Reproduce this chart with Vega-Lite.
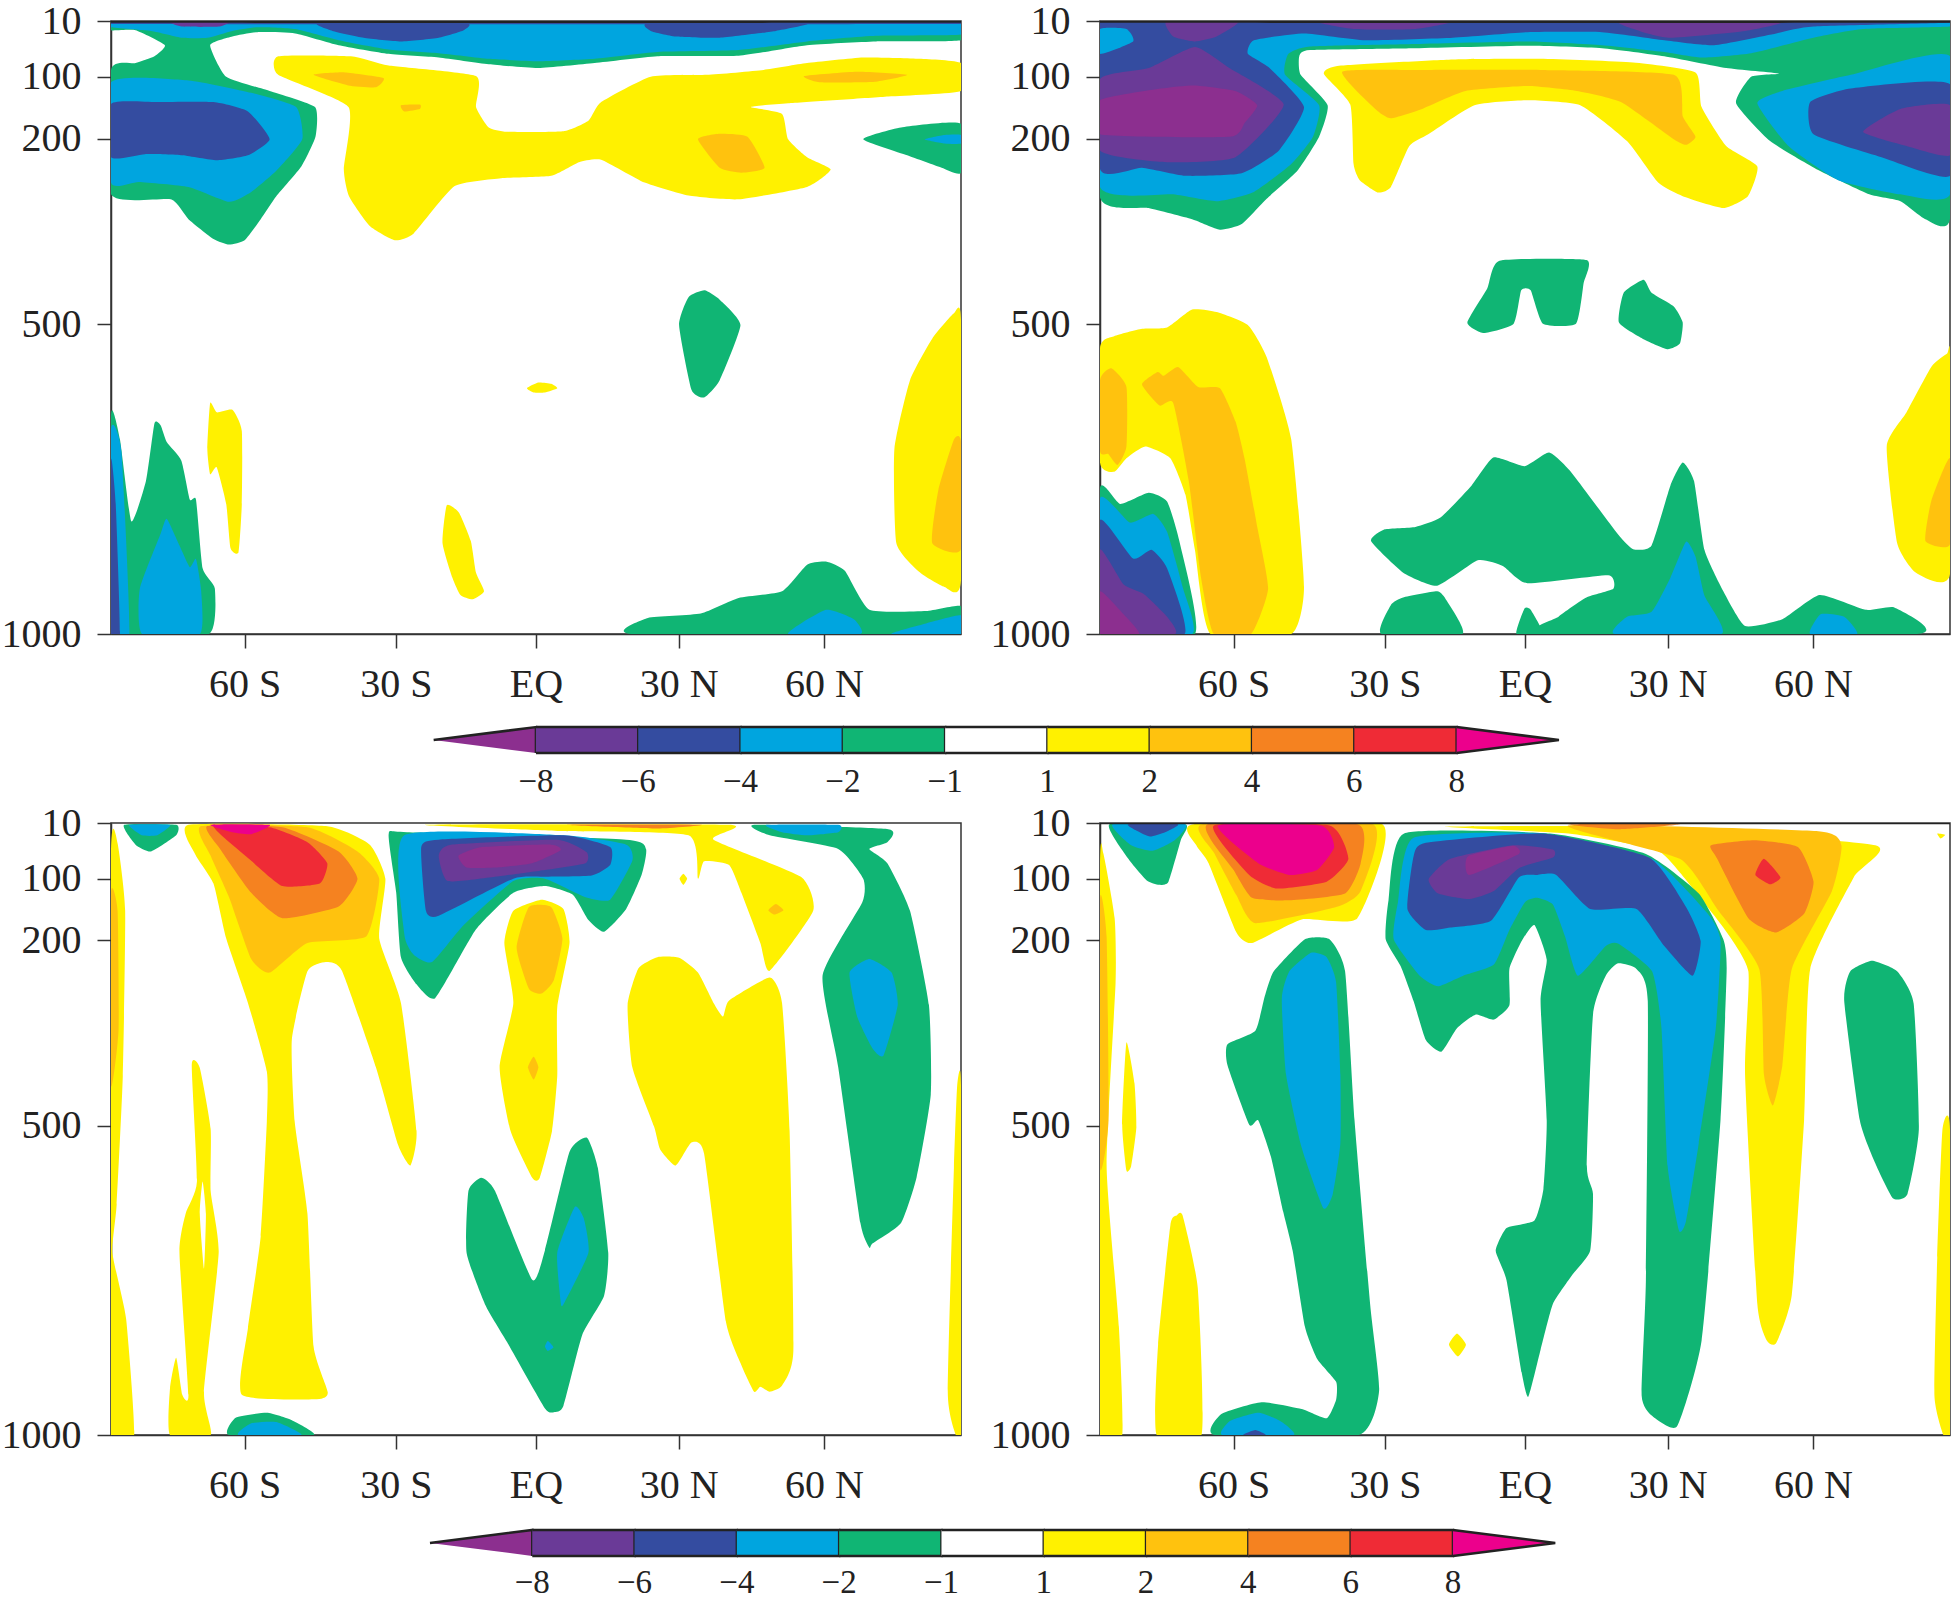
{"$schema":"https://vega.github.io/schema/vega-lite/v6.json","background":"white","padding":{"left":0,"top":0,"right":0,"bottom":0},"bounds":"flush","columns":2,"spacing":{"row":0,"column":139},
"config":{"axis":{"labelFont":"Liberation Serif","labelFontSize":40,"labelColor":"#222","tickColor":"#333","domainColor":"#333","tickSize":14,"tickWidth":1.5,"domainWidth":1.5,"grid":false,"title":null},"view":{"stroke":"#333","strokeWidth":1.5}},
"datasets":{"contours":[
{"panel":"A","id":"a1","band":"-2","lat":[-90,90,90,72,57.4,42.9,25.7,12.4,0.5,-10,-20.6,-31.2,-41.8,-51,-59,-64.3,-69,-65.6,-56.4,-46.8,-46.7,-49.7,-55,-58.3,-61.7,-65,-68.3,-73.6,-77.3,-90,-90,-84.8,-80.8,-78.6,-84.8,-90],"p":[10,10,41,43,49,66,67,78,86,80,69,63,49,30,28,35,49,100,123,149,197,245,293,330,364,371,362,330,298,290,89,78,67,49,25,25]},
{"panel":"A","id":"a2","band":"-4","lat":[-90,90,90,72,57.4,42.9,25.7,12.4,0.5,-10,-20.6,-31.2,-41.8,-51,-59,-64.3,-69.6,-74.9,-81.5,-90],"p":[10,10,32,34,43,57,60,71,75,71,62,56,41,23,20,26,37,37,26,20]},
{"panel":"A","id":"a3","band":"-4","lat":[-90,-73.6,-60.3,-50.8,-49.5,-55,-60.3,-65,-73.6,-84.1,-90],"p":[109,106,126,149,201,252,286,302,278,270,271]},
{"panel":"A","id":"a4","band":"-6","lat":[-90,-80.2,-68.3,-61,-56.4,-61,-67.6,-74.9,-82.8,-90],"p":[144,141,141,156,201,227,235,227,225,230]},
{"panel":"A","id":"a5","band":"-6","lat":[-45.8,-15.3,-15.3,-20.6,-28.6,-36.5,-43.1],"p":[13,13,25,37,43,37,26]},
{"panel":"A","id":"a6","band":"-6","lat":[24.3,57.4,50.8,38.9,29.6,24.3],"p":[13,13,26,37,35,26]},
{"panel":"A","id":"a7","band":"-6","lat":[-90,90,90,-90],"p":[10,10,15,15]},
{"panel":"A","id":"a7b","band":"-8","lat":[-77.5,-65,-67,-75],"p":[10,10,19,19]},
{"panel":"A","id":"a7c","band":"frame","lat":[-90,90,90,-90],"p":[10,10,13,13]},
{"panel":"A","id":"a8","band":"-2","lat":[69.3,77.3,90,90,85.9,78.6],"p":[201,182,176,255,247,227]},
{"panel":"A","id":"a9","band":"-4","lat":[82.3,86.5,90,90,86.5],"p":[201,194,194,208,208]},
{"panel":"A","id":"a10","band":"-2","lat":[-90,-88.1,-85.7,-82.6,-80.8,-79.5,-78.2,-75.1,-73.3,-72,-70.6,-68,-69.3,-90],"p":[646,686,818,753,660,663,690,720,783,783,894,927,1000,1000]},
{"panel":"A","id":"a11","band":"-4","lat":[-90,-87.8,-86.1,-90],"p":[671,705,1000,1000]},
{"panel":"A","id":"a12","band":"-6","lat":[-90,-89,-88.1,-90],"p":[720,790,1000,1000]},
{"panel":"A","id":"a13","band":"-4","lat":[-83.9,-79.5,-78.2,-75.5,-73.3,-72,-70.9,-71.2,-83.4],"p":[927,838,814,857,892,879,931,1000,1000]},
{"panel":"A","id":"a14","band":"1","lat":[-69,-67.6,-64.3,-62.3,-62.3,-63,-64.7,-65.6,-67.6,-69,-69.6],"p":[627,642,638,672,790,868,861,790,731,742,701]},
{"panel":"A","id":"a15","band":"1","lat":[-18.9,-16.3,-13.8,-12.7,-11,-13.4,-16,-17.7,-19.8],"p":[792,804,850,901,931,944,937,909,853]},
{"panel":"A","id":"a16","band":"1","lat":[-1.9,0.5,3.2,4.5,1.9,-0.5],"p":[603,594,596,603,610,610]},
{"panel":"A","id":"a17","band":"-2","lat":[35.7,38.9,43.3,38.9,35.6,32.9,30.3,32.3],"p":[445,460,501,590,618,605,501,456]},
{"panel":"A","id":"a18","band":"1","lat":[88.5,90,90,86.5,81.2,76.3,75.9,79.2,83.9],"p":[482,493,913,924,900,853,701,590,523]},
{"panel":"A","id":"a19","band":"2","lat":[88.5,90,90,83.9,85.2],"p":[686,690,863,853,768]},
{"panel":"A","id":"a20","band":"-2","lat":[20.6,23.7,34.9,42.9,52.1,57.4,61.4,65.4,70.6,82.6,90,90],"p":[1000,974,967,942,931,888,883,898,961,963,955,1000]},
{"panel":"A","id":"a21","band":"-4","lat":[53.4,61.4,67.3,68.7],"p":[1000,961,976,1000]},
{"panel":"A","id":"a22","band":"-4","lat":[75.3,82.6,90,90],"p":[1000,983,970,1000]},
{"panel":"A","id":"a23","band":"1","lat":[-54.6,-39.2,-31.2,-12.7,-12.7,-10,-6.1,5.8,11.1,13.8,24.3,36.2,48.2,57.4,69.3,81.2,90,90,74.6,53.4,45.5,52.1,53.4,57.4,62.4,57.4,42.9,32.3,23,13.8,9.1,3.2,-7.4,-17.3,-25.9,-29.9,-35.2,-39.6,-40.7,-39.7,-54.6],"p":[67,67,82,99,149,182,189,188,171,141,100,97,89,78,69,71,78,123,132,143,149,160,201,230,250,278,298,292,271,234,238,260,264,277,353,364,341,293,249,149,97]},
{"panel":"A","id":"a24","band":"2","lat":[-47.1,-40.5,-32.3,-33.9,-39.8],"p":[97,93,102,117,114]},
{"panel":"A","id":"a25","band":"2","lat":[-28.6,-24.6,-24.6,-27.9],"p":[146,145,152,156]},
{"panel":"A","id":"a26","band":"2","lat":[34.3,38.9,44.8,48.4,43.5,38.9],"p":[201,192,197,247,255,247]},
{"panel":"A","id":"a27","band":"2","lat":[56.8,68,78.6,72,60],"p":[99,92,97,108,109]},

{"panel":"B","id":"b1","band":"-2","lat":[-90,-79.7,-70.5,-64.6,-60,-54.7,-48.2,-43.6,-41.8,-47.5,-47.8,-45.5,-23.2,0.5,16.3,29.5,42.6,53.8,47.9,44.7,51.9,62.4,72.9,79.5,84.8,90,90,-90],"p":[295,312,330,347,338,297,252,197,146,97,67,57,54,50,54,67,86,95,100,143,204,252,290,301,330,329,10,10]},
{"panel":"B","id":"b2","band":"-4","lat":[-90,90,90,71.6,61.1,47.9,37.4,29.5,16.3,0.5,-23.2,-45.5,-50.1,-50.8,-43.6,-44.9,-49.5,-57.4,-65.3,-74.5,-90],"p":[10,10,19,23,37,62,69,60,49,43,47,51,63,97,146,197,241,286,301,290,278]},
{"panel":"B","id":"b3","band":"-4","lat":[49.2,54.5,69,90,90,79.5,66.3,55.8],"p":[143,123,97,67,290,290,267,212]},
{"panel":"B","id":"b4","band":"-6","lat":[-90,90,90,61.1,53.2,40,29.5,16.3,0.5,-15.3,-33.7,-46.8,-57.4,-58.7,-54.1,-46.8,-52.1,-60,-71.9,-81.1,-90],"p":[10,10,13,19,30,49,41,28,28,37,41,30,41,63,86,149,219,256,260,247,249]},
{"panel":"B","id":"b5","band":"-4","lat":[-90,-84.4,-83,-90],"p":[23,23,43,63]},
{"panel":"B","id":"b6","band":"-6","lat":[60.4,69,90,90,75.5,61.1],"p":[141,119,112,260,230,193]},
{"panel":"B","id":"b7","band":"-8","lat":[-90,-79.7,-69.9,-62.6,-51.1,-61.3,-75.8,-90],"p":[104,86,52,86,145,230,238,219]},
{"panel":"B","id":"b8","band":"<-8","lat":[-90,-77.1,-69.9,-61.3,-56.7,-59.4,-62.6,-90],"p":[138,119,114,123,146,175,197,193]},
{"panel":"B","id":"b9","band":"-8","lat":[-75.8,-60.7,-65.3,-69.9,-74.5],"p":[10,10,35,43,35]},
{"panel":"B","id":"b9b","band":"-8","lat":[-44.2,-15.3,-23.2,-36.3],"p":[10,10,23,23]},
{"panel":"B","id":"b9c","band":"-8","lat":[20.3,54.5,46.6,30.8,24.2],"p":[10,10,26,37,26]},
{"panel":"B","id":"b9d","band":"frame","lat":[-90,90,90,-90],"p":[10,10,13,13]},
{"panel":"B","id":"b29","band":"-8","lat":[71.6,79.5,90,90,80.8],"p":[189,152,146,227,212]},
{"panel":"B","id":"b10","band":"1","lat":[-42.6,-39,-15.3,3.2,22.9,36.1,37.4,42.6,49.2,47.2,42,33.4,28.2,21.6,11.7,0.5,-10.7,-20.5,-24.5,-28.4,-31.1,-35,-36.3,-37],"p":[95,82,72,71,77,93,149,212,245,293,312,293,271,204,146,138,146,193,212,278,287,267,241,145]},
{"panel":"B","id":"b11","band":"2","lat":[-38.7,-23.2,3.2,31.5,33.4,36.1,34.1,31.5,20.3,11,0.5,-12.6,-21.8,-28.4,-31.7],"p":[92,89,89,97,164,197,210,201,141,123,115,123,152,167,152]},
{"panel":"B","id":"b12","band":"1","lat":[-90,-87,-81.1,-75.8,-70.5,-65.3,-58.7,-54.7,-49.5,-46.8,-49.5,-66.6,-69.9,-71.9,-75.1,-80.4,-84.4,-87,-90],"p":[538,519,507,505,476,480,501,553,686,924,1000,1000,864,775,716,697,716,738,723]},
{"panel":"B","id":"b13","band":"2","lat":[-81.1,-77.8,-76.5,-73.4,-69.2,-64.6,-61.3,-59.4,-56.7,-54.4,-58,-65.9,-68.6,-71.2,-74.5,-77.4],"p":[597,577,583,569,601,603,657,716,827,927,1000,1000,909,753,627,631]},
{"panel":"B","id":"b14","band":"2","lat":[-90,-87.6,-84.4,-84.4,-86.3,-88.3,-90],"p":[590,571,601,697,727,709,705]},
{"panel":"B","id":"b15","band":"-2","lat":[-90,-85.7,-79.7,-75.8,-73.2,-69.9,-90],"p":[764,790,772,786,850,1000,1000]},
{"panel":"B","id":"b16","band":"-4","lat":[-90,-83.7,-78.7,-75.8,-72.5,-70.5,-90],"p":[781,820,806,835,924,1000,1000]},
{"panel":"B","id":"b17","band":"-6","lat":[-90,-83,-79.1,-75.8,-72.1,-90],"p":[816,878,864,894,1000,1000]},
{"panel":"B","id":"b18","band":"-8","lat":[-90,-85,-80.8,-75.8,-74.2,-90],"p":[864,920,935,972,1000,1000]},
{"panel":"B","id":"b19","band":"<-8","lat":[-90,-85,-81.7,-90],"p":[931,968,1000,1000]},
{"panel":"B","id":"b20","band":"-2","lat":[-12.2,-8,-5.4,13,12.4,10.8,3.8,1.2,-0.8,-2.4,-8.7],"p":[497,442,397,396,434,499,499,445,445,499,514]},
{"panel":"B","id":"b21","band":"-2","lat":[19.9,20.9,25.1,26.8,31.5,33.4,32.8,30.1,24.9],"p":[497,449,428,449,471,497,531,540,523]},
{"panel":"B","id":"b22","band":"-2","lat":[-32.6,-29.7,-23.2,-17.9,-11.3,-6.7,-0.1,5.1,9.7,19.6,22.9,26.8,30.8,33.4,35.8,38,42,46.6,54.5,62.4,72.2,78.2,83,3.8,7.1,13,18.7,17.6,0.5,-4.7,-10,-18.6,-25.8],"p":[850,831,827,812,760,715,729,707,738,838,863,857,760,723,753,864,931,987,976,937,961,957,1000,1000,972,941,927,905,918,890,881,922,901]},
{"panel":"B","id":"b23","band":"-2","lat":[-30.4,-28.4,-25.8,-18.6,-16.6,-13.3],"p":[1000,953,941,931,946,1000]},
{"panel":"B","id":"b24","band":"-2","lat":[-1.8,-0.1,1.2,3.8],"p":[1000,959,961,1000]},
{"panel":"B","id":"b25","band":"-4","lat":[19,21.6,26.8,30.8,34.1,36.1,38,41.6],"p":[1000,972,964,909,851,875,938,1000]},
{"panel":"B","id":"b26","band":"-4","lat":[60.4,62.6,67.6,70.3],"p":[1000,968,972,1000]},
{"panel":"B","id":"b27","band":"1","lat":[89.4,90,90,82.8,78.8,76.6,80.8,86.1],"p":[547,549,903,901,853,697,642,568]},
{"panel":"B","id":"b28","band":"2","lat":[90,90,84.8,86.1],"p":[716,855,850,783]},

{"panel":"C","id":"c1","band":"-2","lat":[-87.2,-76.2,-76.2,-81.5,-84.8],"p":[13,13,30,56,45]},
{"panel":"C","id":"c2","band":"-4","lat":[-86.1,-77.5,-80.2,-83.5],"p":[13,13,30,30]},
{"panel":"C","id":"c3","band":"1","lat":[-90,-88.6,-87,-87.5,-88.8,-89.7,-86.8,-85.1,-90],"p":[63,43,152,419,627,705,812,1000,1000]},
{"panel":"C","id":"c4","band":"2","lat":[-90,-88.6,-88.4,-90],"p":[123,152,345,434]},
{"panel":"C","id":"c5","band":"1","lat":[-73.6,-44.5,-35.2,-31.9,-33.2,-28.6,-25.3,-26.6,-29.2,-33.9,-41.1,-44.5,-48.4,-51.7,-51.1,-48.4,-47.1,-44.1,-46.4,-62.3,-61,-58.3,-57,-57,-61,-65.6,-68.3,-72.2],"p":[13,15,45,100,197,301,508,564,531,405,249,235,250,360,493,642,857,931,942,935,827,679,493,412,301,197,108,60]},
{"panel":"C","id":"c6","band":"2","lat":[-70.9,-48.4,-37.8,-33.2,-35.9,-48.4,-56.4,-60.3,-65,-68.9],"p":[15,17,56,100,193,204,252,230,130,63]},
{"panel":"C","id":"c7","band":"4","lat":[-69.6,-53.7,-41.8,-37.8,-41.8,-53.7,-60.3,-66.9],"p":[15,17,56,100,145,164,123,52]},
{"panel":"C","id":"c8","band":"6","lat":[-68.3,-56.4,-48.4,-44.2,-45.8,-53.7,-60.3],"p":[15,17,41,75,108,112,71]},
{"panel":"C","id":"c9","band":">8","lat":[-68.9,-56.4,-60.3,-64.3],"p":[13,13,28,25]},
{"panel":"C","id":"c10","band":"1","lat":[-72.9,-71.2,-68.9,-68.9,-67.2,-70.3,-68.9,-77.5,-77.5,-76.2,-74.9,-73.6,-75.5,-74.2,-71.8],"p":[401,406,505,605,705,931,1000,1000,924,875,935,935,705,642,590]},
{"panel":"C","id":"c10b","band":"0","lat":[-70.6,-69.9,-70.3,-71.2],"p":[590,642,731,642]},
{"panel":"C","id":"c11","band":"1","lat":[1.2,5.8,7.1,4.5,4.5,3.4,0.8,-0.8,-5.4,-7.7,-4.8,-6.7,-4.8],"p":[134,149,204,308,419,508,584,584,508,405,301,204,152]},
{"panel":"C","id":"c12","band":"2","lat":[-1.5,3.2,5.6,3.8,1.2,-1.5,-4.1],"p":[146,146,197,264,286,278,212]},
{"panel":"C","id":"c12b","band":"2","lat":[-0.5,0.5,-0.5,-1.7],"p":[388,405,425,405]},
{"panel":"C","id":"c13","band":"-2","lat":[-31.2,-27.3,19.1,23.3,22.4,19.1,14.4,11.1,7.8,1.9,-4.8,-12.7,-21.3,-25.3,-28.6,-29.6],"p":[28,25,37,52,93,149,186,167,126,112,123,182,293,271,227,123]},
{"panel":"C","id":"c14","band":"-4","lat":[-27.9,5.8,19.1,20.4,15.7,10.5,1.9,-4.8,-15.3,-22,-25.9,-27.9],"p":[30,30,45,71,134,130,100,104,175,235,223,189]},
{"panel":"C","id":"c15","band":"-6","lat":[-24.3,-20.6,5.8,15.7,15.7,11.8,1.9,-4.8,-20.6,-23.3],"p":[49,37,30,49,78,95,97,100,160,152]},
{"panel":"C","id":"c16","band":"-8","lat":[-20.6,-18,4.5,10.7,10.5,1.9,-8.7,-18.7],"p":[63,45,37,57,75,86,97,104]},
{"panel":"C","id":"c17","band":"<-8","lat":[-16.4,-11.4,3.2,5.2,-0.8,-8.7,-14.7],"p":[63,49,45,54,75,82,82]},
{"panel":"C","id":"c18","band":"1","lat":[-23.3,40.9,37.6,56.1,58.7,49.5,47.5,43.5,40.9,35.6,34.3,32.3,5.8],"p":[13,13,37,97,152,249,204,123,78,72,100,30,23]},
{"panel":"C","id":"c18a","band":"2","lat":[50.8,52.4,50.5,49.2],"p":[141,151,158,151]},
{"panel":"C","id":"c18b","band":"4","lat":[5.8,34.9,25.7],"p":[13,13,19]},
{"panel":"C","id":"c18c","band":"1","lat":[31.2,32,31.2,30.4],"p":[92,100,110,100]},
{"panel":"C","id":"c19","band":"1","lat":[25.7,30.3,34.3,37.6,39.6,40.9,49.5,52.1,53.7,54.5,52.1,49.5,47.5,46.2,43.5,40.2,35.6,32.9,29.6,26.3,25,20.4,19.4,21.7],"p":[227,228,252,301,323,297,260,301,508,864,920,930,922,930,887,816,545,527,564,538,501,405,304,245]},
{"panel":"C","id":"c20","band":"-2","lat":[46.2,74.6,74.4,70.6,74.4,79.2,83.2,83.6,80.6,77.3,71.3,70.6,68.7,64,60.7,69.1,69.3,64,49.5],"p":[13,20,41,52,75,152,304,449,583,657,690,697,657,405,256,138,100,52,30]},
{"panel":"C","id":"c21","band":"-4","lat":[48.8,64,64,57.4,52.1],"p":[13,13,25,30,25]},
{"panel":"C","id":"c22","band":"-4","lat":[66.4,70.6,75.3,76.6,73.6,71.3,68],"p":[252,230,252,304,386,375,323]},
{"panel":"C","id":"c23","band":"-2","lat":[-14.3,-11.6,-8.7,-0.8,1.9,7.1,10.8,13.1,15.3,14.4,9.8,5.8,3.8,1.9,-6.1,-10.7,-14.7],"p":[605,584,605,749,701,542,519,568,705,775,838,953,963,957,850,790,705]},
{"panel":"C","id":"c24","band":"-4","lat":[4.5,8.2,10.1,11.1,5.8,5.2],"p":[705,631,649,705,789,783]},
{"panel":"C","id":"c25","band":"-4","lat":[2.5,3.7,2.5,1.9],"p":[848,858,864,857]},
{"panel":"C","id":"c26","band":"-2","lat":[-65,-63.6,-57,-51.7,-47.1],"p":[1000,972,964,976,1000]},
{"panel":"C","id":"c27","band":"-4","lat":[-63,-60.3,-55,-49.7],"p":[1000,981,979,1000]},
{"panel":"C","id":"c28","band":"1","lat":[89.2,90,90,88.9,87.2,88.5],"p":[434,434,1000,1000,931,568]},

{"panel":"D","id":"d1","band":"-2","lat":[-88,-72,-72.9,-75.5,-77.5,-80.1,-84],"p":[12,12,38,105,110,103,68]},
{"panel":"D","id":"d2","band":"-4","lat":[-87.3,-72,-74.2,-78.8,-83.4],"p":[12,12,38,55,46]},
{"panel":"D","id":"d3","band":"-6","lat":[-84,-73.5,-76.2,-79.4,-82.1],"p":[12,12,25,32,23]},
{"panel":"D","id":"d4","band":"1","lat":[-89.3,-86.9,-86.7,-88.6,-86,-85.3,-90,-90],"p":[59,164,268,565,825,1000,1000,90]},
{"panel":"D","id":"d4b","band":"2","lat":[-90,-88.6,-88.2,-90],"p":[135,194,491,565]},
{"panel":"D","id":"d5","band":"1","lat":[-84.4,-82.7,-82.3,-83.4,-84.4,-85.3],"p":[365,431,502,565,572,498]},
{"panel":"D","id":"d6","band":"1","lat":[-73.8,-72.5,-69.3,-68.5,-78,-77.7,-75.1],"p":[645,645,762,1000,1000,854,661]},
{"panel":"D","id":"d7","band":"1","lat":[-70.2,-30.2,-35.5,-47.3,-57.8,-61.1,-67,-69.6],"p":[12,12,164,166,204,187,75,46]},
{"panel":"D","id":"d8","band":"2","lat":[-68.3,-32.2,-34.8,-40,-57.1,-61.1,-65.7],"p":[12,12,120,146,172,127,60]},
{"panel":"D","id":"d9","band":"4","lat":[-67.2,-35.5,-34.8,-38.1,-49.9,-57.8,-61.7],"p":[12,12,75,124,135,131,86]},
{"panel":"D","id":"d10","band":"6","lat":[-65.9,-41.4,-37.4,-42,-52.5,-58.4],"p":[14,14,68,105,116,94]},
{"panel":"D","id":"d11","band":">8","lat":[-65,-43.3,-40.4,-44,-49.9,-56.5],"p":[14,14,49,86,94,75]},
{"panel":"D","id":"d18","band":"1","lat":[-17.1,26.3,74.2,69.6,60.4,59.1,56.5,53.2,51.2,49.2,46.6,47.3,42,32.8,27.6,9.2],"p":[16,16,46,98,246,491,773,851,847,788,417,250,179,90,53,27]},
{"panel":"D","id":"d19","band":"2","lat":[9.2,61.7,67,65,56.5,54.5,52.5,50.6,49.6,40.7,32.8],"p":[14,23,46,120,246,402,467,417,246,149,68]},
{"panel":"D","id":"d20","band":"4","lat":[39.4,48.6,57.8,61.1,59.1,53.2,47.3,40.7],"p":[46,38,49,105,157,187,164,68]},
{"panel":"D","id":"d20b","band":"4","lat":[9.2,32.8,19.7],"p":[12,12,20]},
{"panel":"D","id":"d21","band":"6","lat":[50.6,54.1,51.9,48.8],"p":[68,98,109,94]},
{"panel":"D","id":"d12","band":"-2","lat":[-29.5,-28.9,-25.6,5.3,25.6,36.8,42,42.7,41.4,37.4,32.2,26.9,24.7,25.6,26,23.6,19.7,17.1,14.4,13.1,14.4,13.8,9.8,5.9,3.3,0.7,-0.7,-3.9,-6.2,-3.9,2,3.9,4.6,3.3,4.6,2,-0.7,-3.3,-3.3,-6.6,-10.5,-14.4,-17.7,-21,-23.6,-26.3],"p":[198,135,27,27,60,124,198,250,491,847,986,969,936,750,298,246,237,257,320,565,610,702,743,788,862,938,899,750,702,665,653,602,491,298,231,175,201,246,305,328,320,342,380,361,298,242]},
{"panel":"D","id":"d13","band":"-4","lat":[-27.8,-26.9,-23.6,3.9,26.9,38.7,41.4,40.4,36.8,34.1,32.6,30.2,28.9,26.9,19.7,17.1,11.2,8.5,5.9,2.6,0,-3.3,-6.6,-13.1,-18.4,-22.3],"p":[198,138,34,27,68,157,201,342,528,654,669,565,342,250,205,209,257,194,142,131,138,183,239,257,274,257]},
{"panel":"D","id":"d14","band":"-6","lat":[-24.9,-23.6,-21,3.9,26.3,34.1,37.2,35.5,29.5,23.6,13.8,6.6,2.6,-1.3,-7.2,-15.8,-21],"p":[149,64,42,27,66,146,201,257,209,149,149,94,94,98,168,179,183]},
{"panel":"D","id":"d15","band":"-8","lat":[-20.4,-15.8,-2.6,5.9,5.9,-1.3,-6.6,-11.8,-18.4],"p":[101,68,46,53,66,83,120,133,124]},
{"panel":"D","id":"d16","band":"<-8","lat":[-12.1,-2.6,-1.3,-11.8],"p":[64,47,60,94]},
{"panel":"D","id":"d22","band":"-2","lat":[67.6,68.9,73.5,78.8,82.3,83.4,81,77.9,74.2,70.9],"p":[298,250,233,250,302,506,610,617,561,491]},
{"panel":"D","id":"d23","band":"-2","lat":[-65.7,-64.3,-55.8,-47.3,-42,-40,-40,-44,-46.6,-49.2,-51.2,-53.8,-56.5,-58.4,-63,-63,-57.1,-55.1,-53.2,-46.6,-41.4,-38.1,-36.1,-32.8,-30.9,-35.2],"p":[1000,966,947,958,973,943,914,877,825,702,639,550,491,498,402,368,346,290,250,198,198,250,491,788,929,1000]},
{"panel":"D","id":"d24","band":"-4","lat":[-51.5,-49.9,-45.3,-42,-40,-39.1,-39.1,-40.7,-42.7,-47.3,-50.6],"p":[294,250,220,227,268,417,528,610,633,535,417]},
{"panel":"D","id":"d25","band":"-4","lat":[-64.1,-62.4,-56.5,-51.9,-49],"p":[1000,977,964,977,1000]},
{"panel":"D","id":"d25b","band":"-6","lat":[-59.7,-57.1,-54.9],"p":[1000,992,1000]},
{"panel":"D","id":"d26","band":"1","lat":[-14.4,-12.5,-14.2,-16.1],"p":[836,854,873,854]},
{"panel":"D","id":"d27","band":"1","lat":[88.4,90,90,88.6,86.7,87.3],"p":[506,506,1000,1000,936,713]},
{"panel":"D","id":"d28","band":"1","lat":[87.3,89,88],"p":[27,29,35]},
{"panel":"D","id":"d29","band":"frame","lat":[-90,90,90,-90],"p":[10,10,12,12]}
],
"bands":[{"id":"k0","band":"<-8","i":[-1,0,0],"v":[0,0.5,-0.5]},{"id":"k1","band":"-8","i":[0,1,1,0],"v":[0.5,0.5,-0.5,-0.5]},{"id":"k2","band":"-6","i":[1,2,2,1],"v":[0.5,0.5,-0.5,-0.5]},{"id":"k3","band":"-4","i":[2,3,3,2],"v":[0.5,0.5,-0.5,-0.5]},{"id":"k4","band":"-2","i":[3,4,4,3],"v":[0.5,0.5,-0.5,-0.5]},{"id":"k5","band":"0","i":[4,5,5,4],"v":[0.5,0.5,-0.5,-0.5]},{"id":"k6","band":"1","i":[5,6,6,5],"v":[0.5,0.5,-0.5,-0.5]},{"id":"k7","band":"2","i":[6,7,7,6],"v":[0.5,0.5,-0.5,-0.5]},{"id":"k8","band":"4","i":[7,8,8,7],"v":[0.5,0.5,-0.5,-0.5]},{"id":"k9","band":"6","i":[8,9,9,8],"v":[0.5,0.5,-0.5,-0.5]},{"id":"k10","band":">8","i":[9,10,9],"v":[0.5,0,-0.5]}],
"labels":[{"i":0,"t":"−8"},{"i":1,"t":"−6"},{"i":2,"t":"−4"},{"i":3,"t":"−2"},{"i":4,"t":"−1"},{"i":5,"t":"1"},{"i":6,"t":"2"},{"i":7,"t":"4"},{"i":8,"t":"6"},{"i":9,"t":"8"}]},
"concat":[
{"width":850,"height":613,"data":{"name":"contours"},"transform":[{"filter":"datum.panel=='A'"},{"flatten":["lat","p"]}],"mark":{"type":"line","clip":true,"strokeWidth":0,"interpolate":"cardinal-closed","tension":0.5},"encoding":{"x":{"field":"lat","type":"quantitative","scale":{"domain":[-90,90],"nice":false},"axis":{"values":[-61.7,-29.7,0,30.2,61],"labelExpr":"datum.value<-50?'60 S':datum.value<-20?'30 S':datum.value<10?'EQ':datum.value<40?'30 N':'60 N'","labelPadding":16,"labelFlush":false}},"y":{"field":"p","type":"quantitative","scale":{"domain":[1000,10],"nice":false,"zero":false},"axis":{"values":[10,100,200,500,1000],"format":"d","labelPadding":16}},"detail":{"field":"id"},"order":{"value":null},"fill":{"field":"band","type":"nominal","legend":null,"scale":{"domain":["<-8","-8","-6","-4","-2","0","1","2","4","6",">8","frame"],"range":["#8C2F8F","#6A3A97","#344CA0","#00A5DF","#10B574","#FFFFFF","#FFF100","#FFC20E","#F58220","#EF2B36","#EC008C","#222222"]}}}},
{"width":850,"height":613,"data":{"name":"contours"},"transform":[{"filter":"datum.panel=='B'"},{"flatten":["lat","p"]}],"mark":{"type":"line","clip":true,"strokeWidth":0,"interpolate":"cardinal-closed","tension":0.5},"encoding":{"x":{"field":"lat","type":"quantitative","scale":{"domain":[-90,90],"nice":false},"axis":{"values":[-61.7,-29.7,0,30.2,61],"labelExpr":"datum.value<-50?'60 S':datum.value<-20?'30 S':datum.value<10?'EQ':datum.value<40?'30 N':'60 N'","labelPadding":16,"labelFlush":false}},"y":{"field":"p","type":"quantitative","scale":{"domain":[1000,10],"nice":false,"zero":false},"axis":{"values":[10,100,200,500,1000],"format":"d","labelPadding":16}},"detail":{"field":"id"},"order":{"value":null},"fill":{"field":"band","type":"nominal","legend":null,"scale":{"domain":["<-8","-8","-6","-4","-2","0","1","2","4","6",">8","frame"],"range":["#8C2F8F","#6A3A97","#344CA0","#00A5DF","#10B574","#FFFFFF","#FFF100","#FFC20E","#F58220","#EF2B36","#EC008C","#222222"]}}}},
{"width":850,"height":189,"view":{"stroke":null},"layer":[
{"data":{"name":"bands"},"transform":[{"flatten":["i","v"]}],"mark":{"type":"line","stroke":"#222","strokeWidth":2.5},"encoding":{"x":{"field":"i","type":"quantitative","scale":{"domain":[-4.154,4.155],"nice":false,"zero":false},"axis":null},"y":{"field":"v","type":"quantitative","scale":{"domain":[-3.19,4.08],"nice":false,"zero":false},"axis":null},"detail":{"field":"id"},"order":{"value":null},"fill":{"field":"band","type":"nominal","legend":null,"scale":{"domain":["<-8","-8","-6","-4","-2","0","1","2","4","6",">8","frame"],"range":["#8C2F8F","#6A3A97","#344CA0","#00A5DF","#10B574","#FFFFFF","#FFF100","#FFC20E","#F58220","#EF2B36","#EC008C","#222222"]}}}},
{"data":{"name":"labels"},"mark":{"type":"text","font":"Liberation Serif","fontSize":33,"color":"#222","baseline":"middle"},"encoding":{"x":{"field":"i","type":"quantitative"},"y":{"datum":-1.62},"text":{"field":"t"}}}
]},
{"width":850,"height":189,"view":{"stroke":null},"data":{"values":[]},"mark":"point","encoding":{}},
{"width":850,"height":612,"data":{"name":"contours"},"transform":[{"filter":"datum.panel=='C'"},{"flatten":["lat","p"]}],"mark":{"type":"line","clip":true,"strokeWidth":0,"interpolate":"cardinal-closed","tension":0.5},"encoding":{"x":{"field":"lat","type":"quantitative","scale":{"domain":[-90,90],"nice":false},"axis":{"values":[-61.7,-29.7,0,30.2,61],"labelExpr":"datum.value<-50?'60 S':datum.value<-20?'30 S':datum.value<10?'EQ':datum.value<40?'30 N':'60 N'","labelPadding":16,"labelFlush":false}},"y":{"field":"p","type":"quantitative","scale":{"domain":[1000,10],"nice":false,"zero":false},"axis":{"values":[10,100,200,500,1000],"format":"d","labelPadding":16}},"detail":{"field":"id"},"order":{"value":null},"fill":{"field":"band","type":"nominal","legend":null,"scale":{"domain":["<-8","-8","-6","-4","-2","0","1","2","4","6",">8","frame"],"range":["#8C2F8F","#6A3A97","#344CA0","#00A5DF","#10B574","#FFFFFF","#FFF100","#FFC20E","#F58220","#EF2B36","#EC008C","#222222"]}}}},
{"width":850,"height":612,"data":{"name":"contours"},"transform":[{"filter":"datum.panel=='D'"},{"flatten":["lat","p"]}],"mark":{"type":"line","clip":true,"strokeWidth":0,"interpolate":"cardinal-closed","tension":0.5},"encoding":{"x":{"field":"lat","type":"quantitative","scale":{"domain":[-90,90],"nice":false},"axis":{"values":[-61.7,-29.7,0,30.2,61],"labelExpr":"datum.value<-50?'60 S':datum.value<-20?'30 S':datum.value<10?'EQ':datum.value<40?'30 N':'60 N'","labelPadding":16,"labelFlush":false}},"y":{"field":"p","type":"quantitative","scale":{"domain":[1000,10],"nice":false,"zero":false},"axis":{"values":[10,100,200,500,1000],"format":"d","labelPadding":16}},"detail":{"field":"id"},"order":{"value":null},"fill":{"field":"band","type":"nominal","legend":null,"scale":{"domain":["<-8","-8","-6","-4","-2","0","1","2","4","6",">8","frame"],"range":["#8C2F8F","#6A3A97","#344CA0","#00A5DF","#10B574","#FFFFFF","#FFF100","#FFC20E","#F58220","#EF2B36","#EC008C","#222222"]}}}},
{"width":850,"height":168,"view":{"stroke":null},"layer":[
{"data":{"name":"bands"},"transform":[{"flatten":["i","v"]}],"mark":{"type":"line","stroke":"#222","strokeWidth":2.5},"encoding":{"x":{"field":"i","type":"quantitative","scale":{"domain":[-4.118,4.191],"nice":false,"zero":false},"axis":null},"y":{"field":"v","type":"quantitative","scale":{"domain":[-2.31,4.15],"nice":false,"zero":false},"axis":null},"detail":{"field":"id"},"order":{"value":null},"fill":{"field":"band","type":"nominal","legend":null,"scale":{"domain":["<-8","-8","-6","-4","-2","0","1","2","4","6",">8","frame"],"range":["#8C2F8F","#6A3A97","#344CA0","#00A5DF","#10B574","#FFFFFF","#FFF100","#FFC20E","#F58220","#EF2B36","#EC008C","#222222"]}}}},
{"data":{"name":"labels"},"mark":{"type":"text","font":"Liberation Serif","fontSize":33,"color":"#222","baseline":"middle"},"encoding":{"x":{"field":"i","type":"quantitative"},"y":{"datum":-1.54},"text":{"field":"t"}}}
]},
{"width":850,"height":168,"view":{"stroke":null},"data":{"values":[]},"mark":"point","encoding":{}}
]}
